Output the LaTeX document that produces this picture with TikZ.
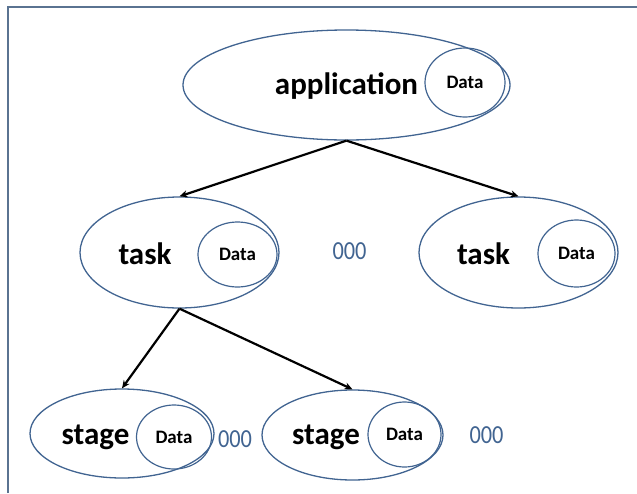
\documentclass[tikz,border=0pt]{standalone}
\usepackage{fontspec}
\setmainfont{Carlito}
\usetikzlibrary{arrows.meta,shapes.geometric}
\definecolor{outline}{RGB}{65,100,145}
\definecolor{framec}{RGB}{90,115,145}
\newcommand{\tallzeros}{\scalebox{0.86}[1]{000}}
\begin{document}
\begin{tikzpicture}[x=1pt,y=-1pt,
  oval/.style={ellipse,draw=outline,line width=1.3pt,inner sep=0pt},
  datac/.style={ellipse,draw=outline,line width=1.2pt,inner sep=0pt,
    font=\bfseries\fontsize{19}{22}\selectfont},
  lbl/.style={inner sep=0pt,font=\bfseries\fontsize{31}{36}\selectfont},
  dots/.style={inner sep=0pt,text=outline,font=\fontsize{26}{30}\selectfont},
  link/.style={line width=2.2pt,-{Stealth[length=8pt,width=7pt]}}]
\useasboundingbox (0,0) rectangle (637,493);
% frame: top and left edges
\draw[framec,line width=1.8pt] (8,493) -- (8,7) -- (637,7);

% application
\node[oval,minimum width=327pt,minimum height=110pt] (app) at (346.5,85) {};
\node[lbl] (appt) at (346.5,86) {application};
\node[datac,minimum width=80pt,minimum height=69pt] (appd) at (465,82.5) {Data};

% tasks
\node[oval,minimum width=199pt,minimum height=111pt] (t1) at (179.5,252.5) {};
\node[lbl] (t1t) at (145,254) {task};
\node[datac,minimum width=79pt,minimum height=65pt] (t1d) at (237.5,254.5) {Data};

\node[oval,minimum width=199pt,minimum height=111pt] (t2) at (518.5,252.5) {};
\node[lbl] (t2t) at (483.5,254) {task};
\node[datac,minimum width=77pt,minimum height=67pt] (t2d) at (576.5,253.5) {Data};

\node[dots] (d1) at (349.5,251) {\tallzeros};

% stages
\node[oval,minimum width=184pt,minimum height=89pt] (s1) at (122,433.5) {};
\node[lbl] (s1t) at (95.5,437) {stage};
\node[datac,minimum width=75pt,minimum height=64pt] (s1d) at (174,437) {Data};

\node[oval,minimum width=181pt,minimum height=90pt] (s2) at (352.5,435) {};
\node[lbl] (s2t) at (326,437) {stage};
\node[datac,minimum width=73pt,minimum height=65pt] (s2d) at (404.5,434.5) {Data};

\node[dots] (d2) at (235,439) {\tallzeros};
\node[dots] (d3) at (486.5,435) {\tallzeros};

% hierarchy
\draw[link] (app.south) -- (t1.north);
\draw[link] (app.south) -- (t2.north);
\draw[link] (t1.south) -- (s1.north);
\draw[link] (t1.south) -- (s2.north);
\end{tikzpicture}
\end{document}
